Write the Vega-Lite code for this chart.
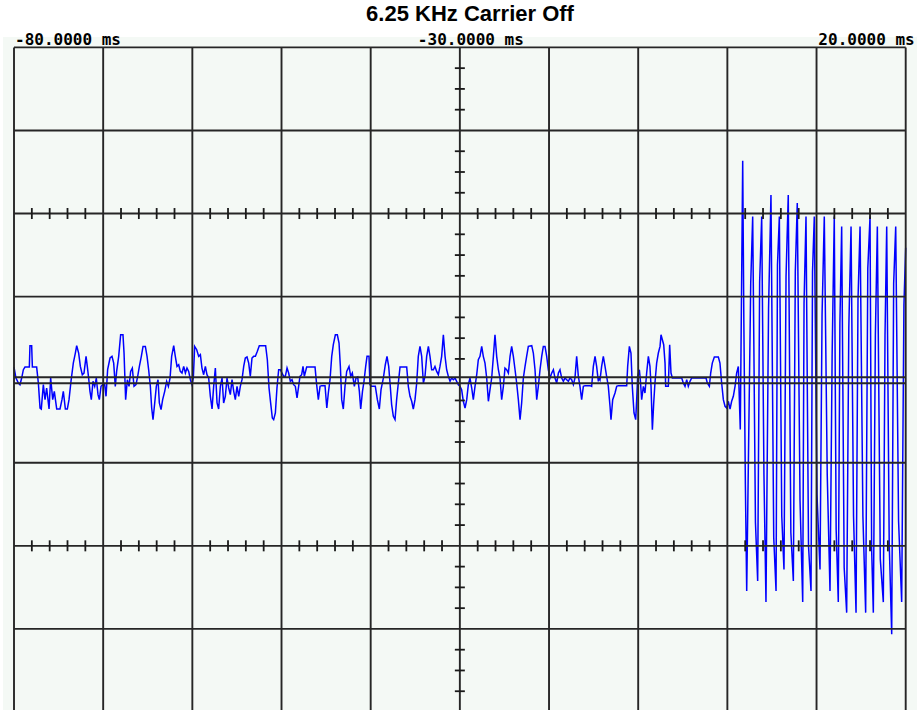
{
  "$schema": "https://vega.github.io/schema/vega-lite/v6.json",
  "width": 914,
  "height": 675,
  "autosize": {"type": "none"},
  "padding": {"left": 3, "top": 37, "right": 0, "bottom": 0},
  "background": "#ffffff",
  "title": {"text": "6.25 KHz Carrier Off", "font": "Liberation Sans", "fontSize": 22, "fontWeight": "bold", "color": "#000000", "anchor": "middle", "frame": "group", "dx": 10, "dy": 24, "offset": 13, "baseline": "alphabetic"},
  "config": {"view": {"fill": "#f4f9f5", "stroke": null}},
  "datasets": {
    "signal": [
      {"t":-80.00,"v":0.152},{"t":-79.78,"v":0.020},{"t":-79.51,"v":-0.040},{"t":-79.33,"v":-0.060},{"t":-79.14,"v":0.020},{"t":-78.95,"v":0.120},{"t":-78.77,"v":0.152},{"t":-78.28,"v":0.152},{"t":-78.21,"v":0.409},{"t":-78.02,"v":0.409},{"t":-77.94,"v":0.152},{"t":-77.46,"v":0.152},{"t":-77.27,"v":-0.040},{"t":-77.08,"v":-0.341},{"t":-76.94,"v":-0.353},{"t":-76.71,"v":-0.060},{"t":-76.52,"v":-0.240},{"t":-76.34,"v":-0.100},{"t":-76.07,"v":-0.353},{"t":-75.89,"v":0.020},{"t":-75.66,"v":-0.240},{"t":-75.48,"v":-0.140},{"t":-75.21,"v":-0.353},{"t":-74.84,"v":-0.353},{"t":-74.62,"v":-0.240},{"t":-74.47,"v":-0.140},{"t":-74.24,"v":-0.353},{"t":-74.02,"v":-0.353},{"t":-73.83,"v":-0.240},{"t":-73.61,"v":-0.020},{"t":-73.35,"v":0.200},{"t":-73.12,"v":0.321},{"t":-72.97,"v":0.409},{"t":-72.75,"v":0.321},{"t":-72.56,"v":0.160},{"t":-72.34,"v":0.060},{"t":-72.15,"v":0.080},{"t":-71.92,"v":0.281},{"t":-71.78,"v":0.160},{"t":-71.63,"v":0.020},{"t":-71.48,"v":-0.140},{"t":-71.33,"v":-0.240},{"t":-71.14,"v":-0.020},{"t":-70.95,"v":-0.080},{"t":-70.77,"v":0.020},{"t":-70.58,"v":-0.180},{"t":-70.43,"v":-0.240},{"t":-70.24,"v":-0.080},{"t":-70.06,"v":-0.060},{"t":-69.83,"v":-0.060},{"t":-69.68,"v":-0.200},{"t":-69.50,"v":0.120},{"t":-69.23,"v":0.261},{"t":-69.01,"v":0.281},{"t":-68.82,"v":0.200},{"t":-68.64,"v":-0.080},{"t":-68.49,"v":0.100},{"t":-68.26,"v":0.281},{"t":-68.04,"v":0.541},{"t":-67.78,"v":0.541},{"t":-67.66,"v":0.321},{"t":-67.48,"v":-0.240},{"t":-67.29,"v":0.000},{"t":-67.10,"v":-0.080},{"t":-66.92,"v":0.100},{"t":-66.73,"v":0.140},{"t":-66.54,"v":-0.080},{"t":-66.32,"v":-0.060},{"t":-66.13,"v":0.040},{"t":-65.94,"v":0.160},{"t":-65.72,"v":0.281},{"t":-65.53,"v":0.401},{"t":-65.27,"v":0.401},{"t":-65.08,"v":0.281},{"t":-64.90,"v":0.120},{"t":-64.71,"v":-0.080},{"t":-64.56,"v":-0.341},{"t":-64.41,"v":-0.481},{"t":-64.22,"v":-0.280},{"t":-64.04,"v":-0.080},{"t":-63.85,"v":0.000},{"t":-63.70,"v":-0.280},{"t":-63.51,"v":-0.361},{"t":-63.33,"v":-0.240},{"t":-63.10,"v":-0.140},{"t":-62.88,"v":-0.020},{"t":-62.69,"v":-0.080},{"t":-62.50,"v":0.020},{"t":-62.32,"v":0.281},{"t":-62.09,"v":0.409},{"t":-61.91,"v":0.281},{"t":-61.72,"v":0.160},{"t":-61.53,"v":0.180},{"t":-61.35,"v":0.100},{"t":-61.16,"v":0.080},{"t":-60.97,"v":0.160},{"t":-60.78,"v":0.080},{"t":-60.60,"v":0.140},{"t":-60.41,"v":0.100},{"t":-60.22,"v":0.000},{"t":-60.04,"v":-0.060},{"t":-59.89,"v":0.020},{"t":-59.74,"v":0.401},{"t":-59.51,"v":0.361},{"t":-59.29,"v":0.281},{"t":-59.10,"v":0.301},{"t":-58.92,"v":0.140},{"t":-58.73,"v":0.060},{"t":-58.54,"v":0.160},{"t":-58.36,"v":0.060},{"t":-58.17,"v":0.020},{"t":-57.98,"v":-0.200},{"t":-57.79,"v":-0.353},{"t":-57.61,"v":-0.080},{"t":-57.42,"v":0.140},{"t":-57.23,"v":-0.280},{"t":-57.05,"v":-0.353},{"t":-56.86,"v":-0.080},{"t":-56.67,"v":0.020},{"t":-56.49,"v":-0.280},{"t":-56.30,"v":-0.200},{"t":-56.11,"v":0.020},{"t":-55.92,"v":-0.100},{"t":-55.74,"v":-0.180},{"t":-55.55,"v":0.000},{"t":-55.36,"v":-0.140},{"t":-55.18,"v":-0.240},{"t":-54.99,"v":-0.080},{"t":-54.80,"v":-0.200},{"t":-54.62,"v":-0.080},{"t":-54.43,"v":0.000},{"t":-54.24,"v":0.160},{"t":-54.06,"v":0.261},{"t":-53.87,"v":0.273},{"t":-53.68,"v":0.200},{"t":-53.50,"v":0.040},{"t":-53.31,"v":0.261},{"t":-53.12,"v":0.281},{"t":-52.93,"v":0.281},{"t":-52.71,"v":0.341},{"t":-52.49,"v":0.409},{"t":-52.30,"v":0.409},{"t":-51.78,"v":0.409},{"t":-51.59,"v":0.240},{"t":-51.40,"v":-0.100},{"t":-51.22,"v":-0.280},{"t":-51.03,"v":-0.461},{"t":-50.88,"v":-0.481},{"t":-50.69,"v":-0.401},{"t":-50.51,"v":-0.100},{"t":-50.32,"v":0.120},{"t":-50.13,"v":0.120},{"t":-49.94,"v":0.080},{"t":-49.76,"v":0.040},{"t":-49.57,"v":0.040},{"t":-49.38,"v":0.140},{"t":-49.20,"v":0.080},{"t":-49.01,"v":-0.020},{"t":-48.82,"v":0.000},{"t":-48.64,"v":-0.060},{"t":-48.45,"v":-0.080},{"t":-48.26,"v":-0.220},{"t":-48.08,"v":-0.080},{"t":-47.93,"v":0.040},
      {"t":-47.74,"v":0.060},{"t":-47.59,"v":0.160},{"t":-47.44,"v":0.040},{"t":-47.18,"v":0.152},{"t":-46.24,"v":0.152},{"t":-46.06,"v":-0.060},{"t":-45.87,"v":-0.240},{"t":-45.68,"v":-0.080},{"t":-45.50,"v":-0.072},{"t":-45.12,"v":-0.072},{"t":-44.92,"v":-0.341},{"t":-44.75,"v":-0.160},{"t":-44.56,"v":0.000},{"t":-44.37,"v":0.281},{"t":-44.19,"v":0.421},{"t":-43.96,"v":0.541},{"t":-43.74,"v":0.541},{"t":-43.55,"v":0.441},{"t":-43.40,"v":0.160},{"t":-43.25,"v":-0.240},{"t":-43.07,"v":-0.353},{"t":-42.88,"v":-0.080},{"t":-42.69,"v":0.100},{"t":-42.43,"v":0.160},{"t":-42.24,"v":0.040},{"t":-42.06,"v":0.080},{"t":-41.83,"v":-0.080},{"t":-41.65,"v":0.020},{"t":-41.46,"v":0.032},{"t":-41.27,"v":-0.140},{"t":-41.12,"v":-0.353},{"t":-40.92,"v":-0.140},{"t":-40.75,"v":-0.020},{"t":-40.56,"v":0.160},{"t":-40.41,"v":0.281},{"t":-40.19,"v":0.281},{"t":-40.08,"v":-0.060},{"t":-39.93,"v":-0.080},{"t":-39.48,"v":-0.080},{"t":-39.25,"v":-0.240},{"t":-39.03,"v":-0.353},{"t":-38.84,"v":-0.120},{"t":-38.58,"v":0.020},{"t":-38.36,"v":0.180},{"t":-38.17,"v":0.281},{"t":-37.98,"v":0.160},{"t":-37.83,"v":-0.040},{"t":-37.65,"v":-0.300},{"t":-37.46,"v":-0.441},{"t":-37.27,"v":-0.481},{"t":-37.09,"v":-0.240},{"t":-36.90,"v":-0.040},{"t":-36.71,"v":0.152},{"t":-35.96,"v":0.152},{"t":-35.78,"v":-0.080},{"t":-35.59,"v":-0.200},{"t":-35.40,"v":-0.260},{"t":-35.22,"v":-0.353},{"t":-35.03,"v":-0.240},{"t":-34.84,"v":-0.040},{"t":-34.66,"v":0.281},{"t":-34.47,"v":0.401},{"t":-34.28,"v":0.281},{"t":-34.09,"v":-0.040},{"t":-33.91,"v":0.040},{"t":-33.72,"v":0.281},{"t":-33.53,"v":0.401},{"t":-33.35,"v":0.281},{"t":-33.16,"v":0.120},{"t":-32.97,"v":0.120},{"t":-32.79,"v":0.160},{"t":-32.60,"v":0.100},{"t":-32.41,"v":0.060},{"t":-32.23,"v":0.160},{"t":-32.04,"v":0.281},{"t":-31.85,"v":0.541},{"t":-31.66,"v":0.281},{"t":-31.48,"v":0.120},{"t":-31.29,"v":0.040},{"t":-31.10,"v":-0.020},{"t":-30.92,"v":0.020},{"t":-30.73,"v":0.000},{"t":-30.54,"v":0.020},{"t":-30.36,"v":-0.020},{"t":-30.17,"v":-0.060},{"t":-29.98,"v":-0.080},{"t":-29.80,"v":-0.120},{"t":-29.61,"v":-0.260},{"t":-29.42,"v":-0.341},{"t":-29.23,"v":-0.240},{"t":-29.05,"v":-0.060},{"t":-28.86,"v":0.020},{"t":-28.67,"v":-0.100},{"t":-28.49,"v":-0.240},{"t":-28.30,"v":-0.080},{"t":-28.11,"v":0.060},{"t":-27.93,"v":0.240},{"t":-27.74,"v":0.281},{"t":-27.55,"v":0.401},{"t":-27.37,"v":0.281},{"t":-27.18,"v":0.200},{"t":-26.99,"v":0.020},{"t":-26.80,"v":-0.260},{"t":-26.62,"v":-0.120},{"t":-26.43,"v":0.020},{"t":-26.24,"v":0.281},{"t":-26.06,"v":0.541},{"t":-25.87,"v":0.281},{"t":-25.68,"v":0.120},{"t":-25.50,"v":0.020},{"t":-25.31,"v":-0.240},{"t":-25.12,"v":-0.080},{"t":-24.94,"v":0.140},{"t":-24.75,"v":0.120},{"t":-24.56,"v":0.080},{"t":-24.37,"v":0.281},{"t":-24.19,"v":0.401},{"t":-24.00,"v":0.281},{"t":-23.81,"v":0.120},{"t":-23.63,"v":-0.040},{"t":-23.44,"v":-0.240},{"t":-23.25,"v":-0.481},{"t":-23.07,"v":-0.280},{"t":-22.88,"v":0.020},{"t":-22.69,"v":0.160},{"t":-22.51,"v":0.281},{"t":-22.32,"v":0.401},{"t":-21.94,"v":0.409},{"t":-21.76,"v":0.321},{"t":-21.57,"v":0.120},{"t":-21.38,"v":-0.240},{"t":-21.20,"v":-0.080},{"t":-21.01,"v":0.120},{"t":-20.82,"v":0.281},{"t":-20.64,"v":0.401},{"t":-20.45,"v":0.401},{"t":-20.26,"v":0.281},{"t":-20.08,"v":0.120},{"t":-19.89,"v":0.020},{"t":-19.70,"v":0.080},{"t":-19.51,"v":0.120},{"t":-19.33,"v":0.020},{"t":-19.14,"v":-0.040},{"t":-18.95,"v":0.080},{"t":-18.77,"v":0.120},{"t":-18.58,"v":0.020},{"t":-18.39,"v":-0.020},{"t":-18.21,"v":0.020},{"t":-18.02,"v":0.000},{"t":-17.83,"v":-0.020},{"t":-17.65,"v":0.020},{"t":-17.46,"v":0.000},{"t":-17.27,"v":-0.060},{"t":-17.09,"v":0.020},{"t":-16.90,"v":0.281},{"t":-16.71,"v":0.040},{"t":-16.53,"v":-0.080},{"t":-16.34,"v":-0.240},{"t":-16.15,"v":-0.080},{"t":-15.96,"v":-0.072},{"t":-15.40,"v":-0.072},{"t":-15.22,"v":-0.080},{"t":-15.03,"v":0.160},{"t":-14.84,"v":0.281},{"t":-14.66,"v":0.160},{"t":-14.47,"v":-0.020},{"t":-14.36,"v":0.020},
      {"t":-14.28,"v":0.000},{"t":-14.10,"v":0.160},{"t":-13.91,"v":0.281},{"t":-13.72,"v":0.160},{"t":-13.54,"v":0.040},{"t":-13.35,"v":-0.080},{"t":-13.16,"v":-0.320},{"t":-13.05,"v":-0.481},{"t":-12.86,"v":-0.240},{"t":-12.60,"v":-0.160},{"t":-12.41,"v":-0.080},{"t":-12.23,"v":-0.072},{"t":-11.29,"v":-0.072},{"t":-11.18,"v":0.160},{"t":-10.99,"v":0.401},{"t":-10.81,"v":0.321},{"t":-10.66,"v":-0.080},{"t":-10.47,"v":-0.401},{"t":-10.28,"v":-0.481},{"t":-10.17,"v":-0.240},{"t":-10.06,"v":0.040},{"t":-9.87,"v":0.120},{"t":-9.76,"v":0.000},{"t":-9.61,"v":-0.240},{"t":-9.42,"v":-0.080},{"t":-9.24,"v":-0.160},{"t":-9.05,"v":0.080},{"t":-8.86,"v":0.281},{"t":-8.68,"v":0.160},{"t":-8.56,"v":-0.080},{"t":-8.41,"v":-0.601},{"t":-8.26,"v":-0.280},{"t":-8.12,"v":-0.040},{"t":-7.93,"v":0.200},{"t":-7.74,"v":0.321},{"t":-7.55,"v":0.401},{"t":-7.44,"v":0.541},{"t":-7.29,"v":0.481},{"t":-7.14,"v":0.421},{"t":-6.99,"v":0.200},{"t":-6.92,"v":-0.080},{"t":-6.62,"v":-0.080},{"t":-6.47,"v":0.421},{"t":-6.32,"v":0.080},{"t":-6.17,"v":0.020},{"t":-5.12,"v":0.020},{"t":-4.94,"v":-0.040},{"t":-4.75,"v":-0.080},{"t":-4.56,"v":0.000},{"t":-4.38,"v":-0.080},{"t":-4.19,"v":-0.020},{"t":-4.00,"v":0.020},{"t":-2.39,"v":0.020},{"t":-2.25,"v":-0.040},{"t":-2.02,"v":-0.080},{"t":-1.87,"v":0.080},{"t":-1.69,"v":0.200},{"t":-1.46,"v":0.273},{"t":-1.01,"v":0.273},{"t":-0.83,"v":0.200},{"t":-0.64,"v":-0.040},{"t":-0.45,"v":-0.240},{"t":-0.26,"v":-0.320},{"t":-0.08,"v":-0.341},{"t":0.11,"v":-0.260},{"t":0.30,"v":-0.353},{"t":0.48,"v":-0.260},{"t":0.67,"v":-0.200},{"t":0.86,"v":-0.080},{"t":1.04,"v":0.080},{"t":1.23,"v":0.160},{"t":1.45,"v":-0.600},
      {"t":1.72,"v":2.636},{"t":1.85,"v":0.68},{"t":2.02,"v":-1.26},{"t":2.17,"v":-2.544},{"t":2.62,"v":1.16},{"t":2.84,"v":1.963},{"t":3.15,"v":-1.72},{"t":3.40,"v":-2.424},{"t":3.62,"v":1.18},{"t":3.85,"v":1.963},{"t":4.10,"v":-1.12},{"t":4.33,"v":-2.677},{"t":4.62,"v":0.86},{"t":4.89,"v":2.224},{"t":5.20,"v":-1.9},{"t":5.46,"v":-2.544},{"t":5.62,"v":1.38},{"t":5.83,"v":1.963},{"t":6.10,"v":-1.64},{"t":6.35,"v":-2.284},{"t":6.58,"v":1.24},{"t":6.83,"v":2.224},{"t":7.12,"v":-1.84},{"t":7.40,"v":-2.424},{"t":7.62,"v":1.30},{"t":7.84,"v":2.127},{"t":8.15,"v":-1.46},{"t":8.45,"v":-2.677},{"t":8.60,"v":0.92},{"t":8.82,"v":1.963},{"t":9.10,"v":-2.0},{"t":9.38,"v":-2.544},{"t":9.55,"v":1.30},{"t":9.75,"v":1.963},{"t":10.05,"v":-1.38},{"t":10.39,"v":-2.284},{"t":10.62,"v":0.78},{"t":10.87,"v":1.963},{"t":11.20,"v":-1.14},{"t":11.51,"v":-2.544},{"t":11.75,"v":0.30},{"t":11.99,"v":1.963},{"t":12.20,"v":-1.80},{"t":12.44,"v":-2.677},{"t":12.62,"v":0.68},{"t":12.82,"v":1.843},{"t":13.10,"v":-2.26},{"t":13.38,"v":-2.804},{"t":13.62,"v":0.62},{"t":13.87,"v":1.843},{"t":14.15,"v":-1.64},{"t":14.43,"v":-2.804},{"t":14.65,"v":0.96},{"t":14.88,"v":1.843},{"t":15.20,"v":-1.64},{"t":15.51,"v":-2.804},{"t":15.75,"v":1.34},{"t":16.00,"v":1.963},{"t":16.18,"v":-2.04},{"t":16.37,"v":-2.804},{"t":16.60,"v":0.54},{"t":16.82,"v":1.843},{"t":17.15,"v":-2.16},{"t":17.49,"v":-2.677},{"t":17.68,"v":0.53},{"t":17.87,"v":1.843},{"t":18.15,"v":-1.96},{"t":18.43,"v":-3.065},{"t":18.65,"v":1.16},{"t":18.88,"v":1.843},{"t":19.20,"v":-1.70},{"t":19.55,"v":-2.677},{"t":19.80,"v":0.90},{"t":20.00,"v":1.587}
    ],
    "vgrid": [{"t":-80},{"t":-70},{"t":-60},{"t":-50},{"t":-40},{"t":-30},{"t":-20},{"t":-10},{"t":0},{"t":10},{"t":20}],
    "hgrid": [{"v":4},{"v":3},{"v":2},{"v":1},{"v":0.03},{"v":-0.042},{"v":-1},{"v":-2},{"v":-3},{"v":-4}],
    "yticks": [{"v":3.75},{"v":3.5},{"v":3.25},{"v":2.75},{"v":2.5},{"v":2.25},{"v":1.75},{"v":1.5},{"v":1.25},{"v":0.75},{"v":0.5},{"v":0.25},{"v":-0.25},{"v":-0.5},{"v":-0.75},{"v":-1.25},{"v":-1.5},{"v":-1.75},{"v":-2.25},{"v":-2.5},{"v":-2.75},{"v":-3.25},{"v":-3.5},{"v":-3.75}],
    "xticks": [{"t":-78},{"t":-76},{"t":-74},{"t":-72},{"t":-68},{"t":-66},{"t":-64},{"t":-62},{"t":-58},{"t":-56},{"t":-54},{"t":-52},{"t":-48},{"t":-46},{"t":-44},{"t":-42},{"t":-38},{"t":-36},{"t":-34},{"t":-32},{"t":-28},{"t":-26},{"t":-24},{"t":-22},{"t":-18},{"t":-16},{"t":-14},{"t":-12},{"t":-8},{"t":-6},{"t":-4},{"t":-2},{"t":2},{"t":4},{"t":6},{"t":8},{"t":12},{"t":14},{"t":16},{"t":18}],
    "labels": [{"t":-80,"label":"-80.0000 ms"},{"t":-30,"label":"-30.0000 ms"},{"t":20,"label":"20.0000 ms"}]
  },
  "layer": [
    {
      "data": {"name": "signal"},
      "mark": {"type": "line", "color": "#0000ff", "strokeWidth": 1.5, "interpolate": "linear"},
      "encoding": {
        "x": {"field": "t", "type": "quantitative", "scale": {"domain": [-81.234, 21.267], "nice": false, "zero": false}, "axis": null},
        "y": {"field": "v", "type": "quantitative", "scale": {"domain": [-4, 4.125], "nice": false, "zero": false}, "axis": null}
      }
    },
    {
      "data": {"name": "vgrid"},
      "mark": {"type": "rule", "color": "#262626", "strokeWidth": 1.9},
      "encoding": {
        "x": {"field": "t", "type": "quantitative", "axis": null},
        "y": {"datum": 4, "type": "quantitative", "axis": null},
        "y2": {"datum": -4}
      }
    },
    {
      "data": {"name": "hgrid"},
      "mark": {"type": "rule", "color": "#262626", "strokeWidth": 1.9},
      "encoding": {
        "y": {"field": "v", "type": "quantitative", "axis": null},
        "x": {"datum": -80, "type": "quantitative", "axis": null},
        "x2": {"datum": 20}
      }
    },
    {
      "data": {"name": "yticks"},
      "mark": {"type": "tick", "orient": "horizontal", "size": 10, "thickness": 1.8, "color": "#1a1a1a", "opacity": 1},
      "encoding": {
        "y": {"field": "v", "type": "quantitative", "axis": null},
        "x": {"datum": -30, "type": "quantitative", "axis": null}
      }
    },
    {
      "data": {"name": "xticks"},
      "mark": {"type": "tick", "orient": "vertical", "size": 11, "thickness": 1.8, "color": "#1a1a1a", "opacity": 1},
      "encoding": {
        "x": {"field": "t", "type": "quantitative", "axis": null},
        "y": {"datum": 2, "type": "quantitative", "axis": null}
      }
    },
    {
      "data": {"name": "xticks"},
      "mark": {"type": "tick", "orient": "vertical", "size": 11, "thickness": 1.8, "color": "#1a1a1a", "opacity": 1},
      "encoding": {
        "x": {"field": "t", "type": "quantitative", "axis": null},
        "y": {"datum": -2, "type": "quantitative", "axis": null}
      }
    },
    {
      "data": {"name": "labels"},
      "mark": {"type": "text", "font": "DejaVu Sans Mono", "fontWeight": "bold", "fontSize": 16, "color": "#000000", "baseline": "alphabetic", "dy": -2,
        "align": {"expr": "datum.t < -50 ? 'left' : (datum.t > 0 ? 'right' : 'center')"},
        "dx": {"expr": "datum.t < -50 ? 1 : (datum.t > 0 ? 9 : 11)"}},
      "encoding": {
        "x": {"field": "t", "type": "quantitative", "axis": null},
        "y": {"datum": 4, "type": "quantitative", "axis": null},
        "text": {"field": "label"}
      }
    }
  ]
}
